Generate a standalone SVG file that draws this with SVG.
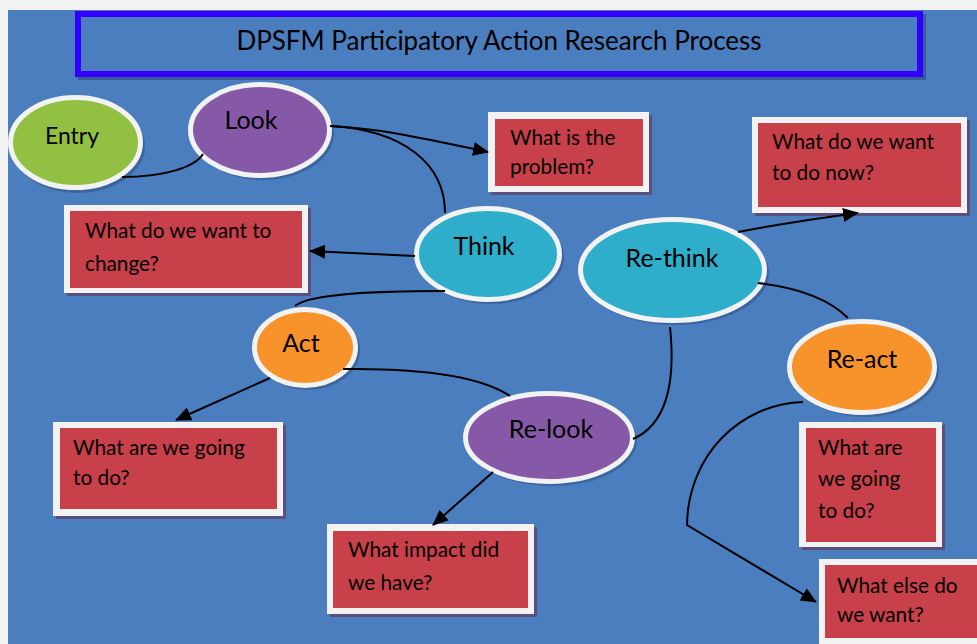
<svg xmlns="http://www.w3.org/2000/svg" width="977" height="644" viewBox="0 0 977 644">
  <defs>
    <marker id="arrow" markerUnits="userSpaceOnUse" markerWidth="16" markerHeight="14" refX="15" refY="7" orient="auto">
      <path d="M0,0 L16,7 L0,14 z" fill="#000"/>
    </marker>
    <style>
      .bg { fill: #4a7ebe; }
      .frame { fill: #f2f2f2; }
      .title-box { fill: none; stroke: #3300ff; stroke-width: 6; }
      .title-shadow { fill: none; stroke: #3a5c95; stroke-width: 6; }
      .title { font-family: Lato, "Open Sans", "Liberation Sans", sans-serif; font-size: 26px; fill: #000; text-anchor: middle; }
      .oval { stroke: #f2f2f2; stroke-width: 5; }
      .oval-shadow { fill: #365d95; opacity: 0.75; }
      .entry { fill: #92c043; }
      .purple { fill: #8659a8; }
      .teal { fill: #2eaecb; }
      .orange { fill: #f8922b; }
      .oval-label { font-family: Lato, "Open Sans", "Liberation Sans", sans-serif; font-size: 25px; fill: #000; text-anchor: middle; }
      .box-shadow { fill: #5a4f7d; }
      .box-edge { fill: #f2f2f2; }
      .box-fill { fill: #c8404a; }
      .box-text { font-family: Lato, "Open Sans", "Liberation Sans", sans-serif; font-size: 20.8px; fill: #000; }
      .link { fill: none; stroke: #000; stroke-width: 2; }
      .arrowed { marker-end: url(#arrow); }
    </style>
  </defs>

  <!-- page and background -->
  <rect class="frame" x="0" y="0" width="977" height="644"/>
  <rect class="bg" x="8" y="10" width="969" height="634"/>

  <!-- title banner -->
  <g id="title">
    <rect class="title-shadow" x="81" y="17" width="842" height="60"/>
    <rect class="bg" x="78" y="14" width="842" height="60"/>
    <rect class="title-box" x="78" y="14" width="842" height="60"/>
    <text class="title" x="499" y="50">DPSFM Participatory Action Research Process</text>
  </g>

  <!-- question boxes -->
  <g id="box-problem">
    <rect class="box-shadow" x="491" y="115" width="161" height="80"/>
    <rect class="box-edge" x="488" y="112" width="161" height="80"/>
    <rect class="box-fill" x="495" y="119" width="148" height="67"/>
    <text class="box-text" x="510" y="145">What is the</text>
    <text class="box-text" x="510" y="174">problem?</text>
  </g>
  <g id="box-now">
    <rect class="box-shadow" x="755" y="120" width="215" height="96"/>
    <rect class="box-edge" x="752" y="117" width="215" height="96"/>
    <rect class="box-fill" x="758" y="123" width="203" height="84"/>
    <text class="box-text" x="772" y="149">What do we want</text>
    <text class="box-text" x="772" y="180">to do now?</text>
  </g>
  <g id="box-change">
    <rect class="box-shadow" x="67" y="208" width="244" height="88"/>
    <rect class="box-edge" x="64" y="205" width="244" height="88"/>
    <rect class="box-fill" x="70" y="211" width="232" height="77"/>
    <text class="box-text" x="85" y="238">What do we want to</text>
    <text class="box-text" x="85" y="271">change?</text>
  </g>
  <g id="box-going-left">
    <rect class="box-shadow" x="56" y="425" width="230" height="94"/>
    <rect class="box-edge" x="53" y="422" width="230" height="94"/>
    <rect class="box-fill" x="60" y="428" width="217" height="81"/>
    <text class="box-text" x="73" y="455">What are we going</text>
    <text class="box-text" x="73" y="485">to do?</text>
  </g>
  <g id="box-impact">
    <rect class="box-shadow" x="330" y="527" width="207" height="90"/>
    <rect class="box-edge" x="327" y="524" width="207" height="90"/>
    <rect class="box-fill" x="333" y="531" width="195" height="77"/>
    <text class="box-text" x="348" y="557">What impact did</text>
    <text class="box-text" x="348" y="590">we have?</text>
  </g>
  <g id="box-going-right">
    <rect class="box-shadow" x="802" y="425" width="143" height="125"/>
    <rect class="box-edge" x="799" y="422" width="143" height="125"/>
    <rect class="box-fill" x="806" y="428" width="130" height="114"/>
    <text class="box-text" x="818" y="455">What are</text>
    <text class="box-text" x="818" y="486">we going</text>
    <text class="box-text" x="818" y="518">to do?</text>
  </g>
  <g id="box-else">
    <rect class="box-edge" x="819" y="559" width="170" height="95"/>
    <rect class="box-fill" x="825" y="565" width="160" height="73"/>
    <text class="box-text" x="837" y="593">What else do</text>
    <text class="box-text" x="837" y="622">we want?</text>
  </g>

  <!-- stage ovals -->
  <g id="entry">
    <ellipse class="oval-shadow" cx="78" cy="146" rx="67" ry="47"/>
    <ellipse class="oval entry" cx="75.5" cy="142.5" rx="65" ry="45"/>
    <text class="oval-label" x="72" y="144" style="font-size:23px">Entry</text>
  </g>
  <g id="look">
    <ellipse class="oval-shadow" cx="263" cy="133" rx="71" ry="47"/>
    <ellipse class="oval purple" cx="260" cy="130" rx="69.5" ry="45.5"/>
    <text class="oval-label" x="251" y="129">Look</text>
  </g>
  <g id="think">
    <ellipse class="oval-shadow" cx="491" cy="257" rx="73" ry="47"/>
    <ellipse class="oval teal" cx="488" cy="254" rx="71.5" ry="45.5"/>
    <text class="oval-label" x="484" y="255">Think</text>
  </g>
  <g id="rethink">
    <ellipse class="oval-shadow" cx="675" cy="273" rx="94" ry="52"/>
    <ellipse class="oval teal" cx="672.5" cy="270" rx="92" ry="50.5"/>
    <text class="oval-label" x="672" y="267">Re-think</text>
  </g>
  <g id="act">
    <ellipse class="oval-shadow" cx="308" cy="350" rx="52" ry="40"/>
    <ellipse class="oval orange" cx="305" cy="347.5" rx="50.5" ry="38"/>
    <text class="oval-label" x="301" y="352">Act</text>
  </g>
  <g id="relook">
    <ellipse class="oval-shadow" cx="552" cy="440" rx="85" ry="46"/>
    <ellipse class="oval purple" cx="549" cy="437.5" rx="83.5" ry="44"/>
    <text class="oval-label" x="551" y="438">Re-look</text>
  </g>
  <g id="react">
    <ellipse class="oval-shadow" cx="865" cy="370" rx="74" ry="47"/>
    <ellipse class="oval orange" cx="862" cy="367" rx="72.5" ry="45.5"/>
    <text class="oval-label" x="862" y="368">Re-act</text>
  </g>

  <!-- connectors -->
  <g id="connectors">
    <path class="link" d="M122,177 C165,177 195,167 203,154"/>
    <path class="link arrowed" d="M330,126 C380,128 430,140 488,152"/>
    <path class="link" d="M330,126 C405,130 445,165 445,213"/>
    <path class="link arrowed" d="M415,256 L310,251"/>
    <path class="link" d="M445,291 C380,291 310,293 295,306"/>
    <path class="link arrowed" d="M270,378 L176,420"/>
    <path class="link" d="M343,369 C420,368 480,376 510,396"/>
    <path class="link arrowed" d="M493,472 L433,525"/>
    <path class="link" d="M670,327 C676,385 665,425 633,439"/>
    <path class="link arrowed" d="M738,232 C780,224 820,218 858,213"/>
    <path class="link" d="M758,283 C800,288 830,300 848,318"/>
    <path class="link arrowed" d="M803,402 C740,404 688,455 687,525 L816,602"/>
  </g>
</svg>
